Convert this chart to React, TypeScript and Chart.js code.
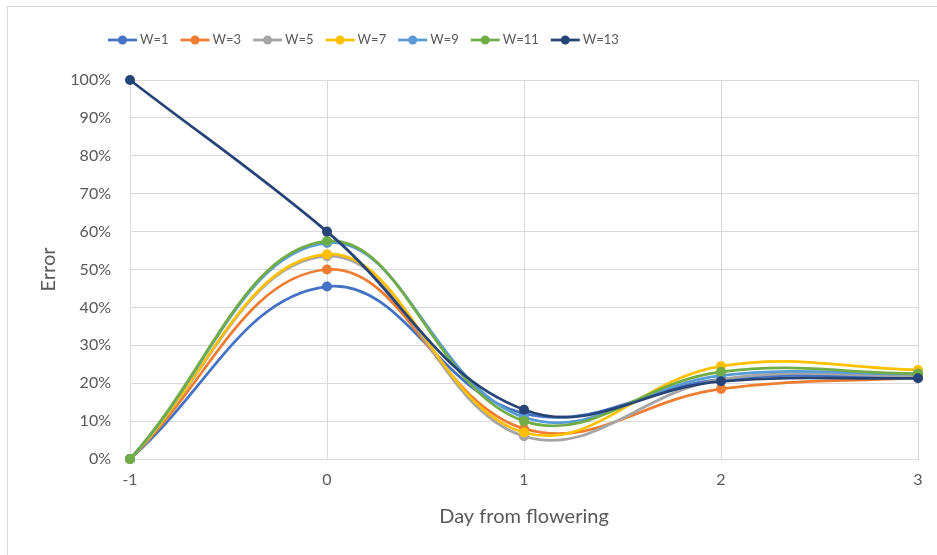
import React, { useEffect, useRef } from "react";
import { Chart, registerables } from "chart.js";

Chart.register(...registerables);

const days = [-1, 0, 1, 2, 3];
const seriesLabels = ["W=1", "W=3", "W=5", "W=7", "W=9", "W=11", "W=13"];
const w1 = [0, 45.5, 12, 21, 22];
const w3 = [0, 50, 8, 18.5, 21.5];
const w5 = [0, 53.5, 6, 21, 22];
const w7 = [0, 54, 7, 24.5, 23.5];
const w9 = [0, 57, 11, 22, 22.5];
const w11 = [0, 57.5, 10, 23, 22.5];
const w13 = [100, 60, 13, 20.5, 21.3];
const seriesValues = [w1, w3, w5, w7, w9, w11, w13];
const seriesColors = ["#4472C4", "#ED7D31", "#A5A5A5", "#FFC000", "#5B9BD5", "#70AD47", "#264478"];
const xTitle = "Day from flowering";
const yTitle = "Error";

const FONT = "Lato, 'Open Sans', sans-serif";
const TEXT = "#595959";
const GRID = "#d9d9d9";

const framePlugin = {
  id: "frame",
  beforeDraw(chart: any) {
    const ctx = chart.ctx;
    ctx.save();
    ctx.fillStyle = "#ffffff";
    ctx.fillRect(0, 0, chart.width, chart.height);
    ctx.strokeStyle = GRID;
    ctx.lineWidth = 1;
    ctx.strokeRect(7.5, 6.5, 1000, 1000);
    ctx.restore();
  },
};

const legendPlugin = {
  id: "lineLegend",
  afterDraw(chart: any) {
    const ctx = chart.ctx;
    ctx.save();
    ctx.font = `13px ${FONT}`;
    ctx.textBaseline = "middle";
    ctx.textAlign = "left";
    let x = 108;
    const y = 40;
    chart.data.datasets.forEach((ds: any) => {
      ctx.strokeStyle = ds.borderColor;
      ctx.lineWidth = 2.75;
      ctx.beginPath();
      ctx.moveTo(x, y);
      ctx.lineTo(x + 29, y);
      ctx.stroke();
      ctx.fillStyle = ds.borderColor;
      ctx.beginPath();
      ctx.arc(x + 14.5, y, 4.5, 0, Math.PI * 2);
      ctx.fill();
      ctx.fillStyle = TEXT;
      ctx.fillText(ds.label, x + 32, y);
      x += 32 + ctx.measureText(ds.label).width + 12;
    });
    ctx.restore();
  },
};

export default function App() {
  const ref = useRef<HTMLCanvasElement>(null);
  useEffect(() => {
    if (!ref.current) return;
    const datasets = seriesValues.map((vals, i) => ({
      label: seriesLabels[i],
      data: days.map((d, j) => ({ x: d, y: vals[j] })),
      borderColor: seriesColors[i],
      backgroundColor: seriesColors[i],
      borderWidth: 2.75,
      pointRadius: 5,
      pointHoverRadius: 5,
      pointBorderWidth: 0,
      tension: 0.4,
      fill: false,
      clip: false as any,
      order: seriesLabels.length - i,
    }));
    const chart = new Chart(ref.current, {
      type: "line",
      data: { datasets },
      plugins: [framePlugin, legendPlugin],
      options: {
        responsive: false,
        animation: false,
        devicePixelRatio: 1,
        layout: { padding: { left: 37, right: 19, top: 80, bottom: 26 } },
        plugins: { legend: { display: false }, tooltip: { enabled: false } },
        scales: {
          x: {
            type: "linear",
            min: -1,
            max: 3,
            afterFit: (s: any) => { s.height = 70; },
            ticks: { stepSize: 1, color: TEXT, padding: 11, font: { family: FONT, size: 16 } },
            grid: { color: GRID, drawTicks: false },
            border: { color: GRID },
            title: { display: true, text: xTitle, color: TEXT, font: { family: FONT, size: 20, lineHeight: 1.2 }, padding: { top: 0, bottom: 0 } },
          },
          y: {
            min: 0,
            max: 100,
            afterFit: (s: any) => { s.width = 93; },
            ticks: { stepSize: 10, color: TEXT, padding: 19, font: { family: FONT, size: 16 }, callback: (v: any) => v + "%" },
            grid: { color: GRID, drawTicks: false },
            border: { color: GRID },
            title: { display: true, text: yTitle, color: TEXT, font: { family: FONT, size: 20, lineHeight: 1.2 }, padding: { top: 0, bottom: 0 } },
          },
        },
      },
    });
    return () => chart.destroy();
  }, []);
  return (
    <div style={{ position: "fixed", left: 0, top: 0, width: 937, height: 555 }}>
      <canvas ref={ref} width={937} height={555} style={{ width: 937, height: 555, display: "block" }} />
    </div>
  );
}
